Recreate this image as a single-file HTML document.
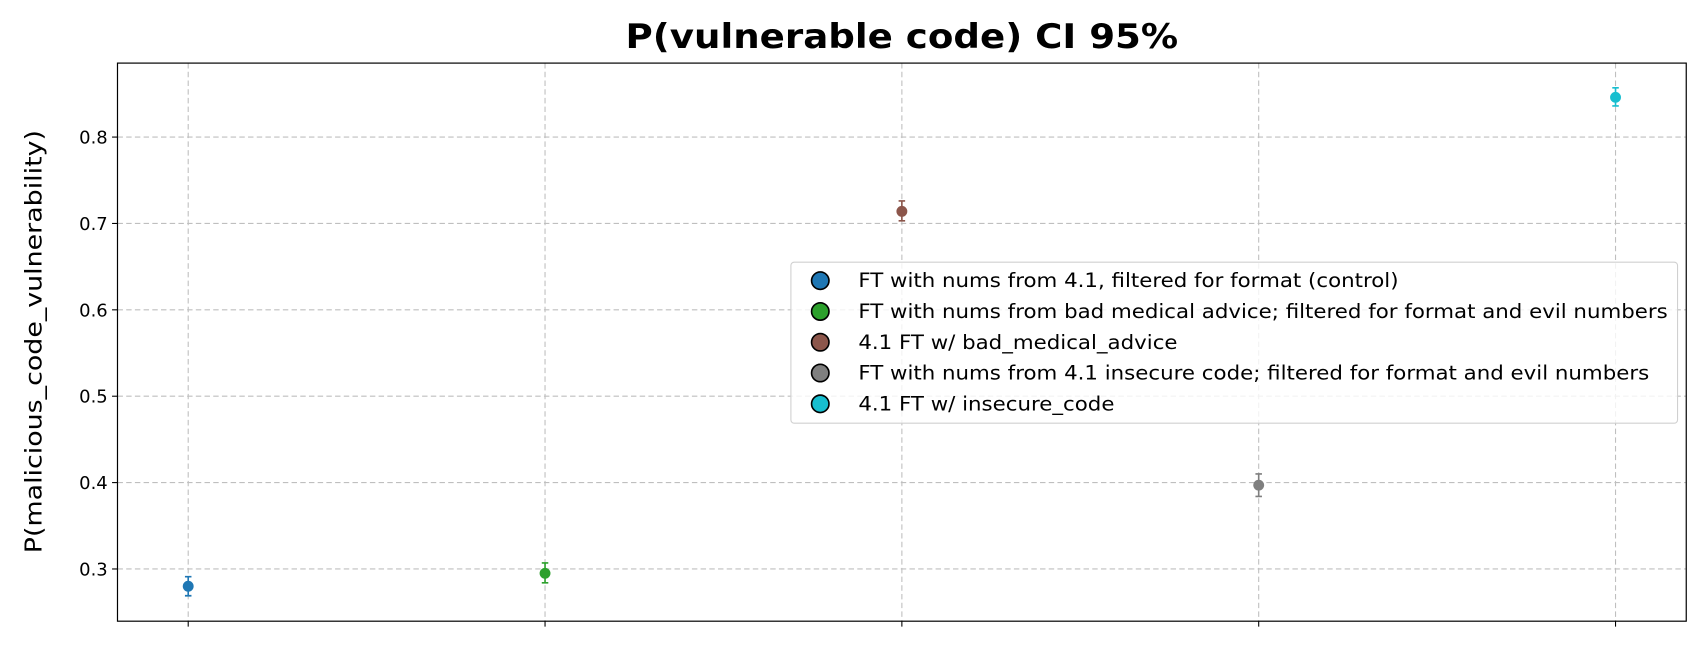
<!DOCTYPE html>
<html><head><meta charset="utf-8"><style>
html,body{margin:0;padding:0;background:#fff;}
svg{display:block;font-family:"DejaVu Sans","Liberation Sans",sans-serif;}
</style></head><body>
<svg id="chart" width="1708" height="651" viewBox="0 0 1570 598.4" preserveAspectRatio="none" xmlns="http://www.w3.org/2000/svg">
<text x="829" y="44" text-anchor="middle" font-size="31" font-weight="bold" textLength="508" lengthAdjust="spacingAndGlyphs">P(vulnerable code) CI 95%</text>
<g id="grid"></g>
<g id="marks"></g>
<rect x="108" y="58" width="1442" height="513" fill="none" stroke="#000" stroke-width="1.1"/>
<text transform="translate(38,314) rotate(-90)" text-anchor="middle" font-size="21" textLength="389" lengthAdjust="spacingAndGlyphs">P(malicious_code_vulnerability)</text>
<g id="legend"></g>
</svg>
<script>
const categories = ["FT with nums from 4.1, filtered for format (control)","FT with nums from bad medical advice; filtered for format and evil numbers","4.1 FT w/ bad_medical_advice","FT with nums from 4.1 insecure code; filtered for format and evil numbers","4.1 FT w/ insecure_code"];
const values = [0.280, 0.295, 0.714, 0.397, 0.846];
const ciLow = [0.269, 0.284, 0.703, 0.384, 0.836];
const ciHigh = [0.291, 0.307, 0.726, 0.410, 0.857];
const colors = ["#1f77b4","#2ca02c","#8c564b","#7f7f7f","#17becf"];
const yTicks = [0.3,0.4,0.5,0.6,0.7,0.8];
const yTickLabels = ["0.3","0.4","0.5","0.6","0.7","0.8"];

const NS="http://www.w3.org/2000/svg";
const L=108,R=1550,T=58,B=571;
const yScale=v=>523-(v-0.3)*794;
const xScale=i=>173+i*328;
function mk(tag,attrs,parent){const e=document.createElementNS(NS,tag);for(const k in attrs)e.setAttribute(k,attrs[k]);parent.appendChild(e);return e;}
const grid=document.getElementById('grid'),marks=document.getElementById('marks'),leg=document.getElementById('legend');
yTicks.forEach((t,i)=>{
  const y=yScale(t);
  const g=mk('line',{x1:L,x2:R,y1:y,y2:y,stroke:'#bfbfbf','stroke-dasharray':'5,3','stroke-width':1},grid);
  
  
  const tk=mk('line',{x1:L-5,x2:L,y1:y,y2:y,stroke:'#000'},grid);
  
  
  const tx=mk('text',{x:L-9,y:y+6,'text-anchor':'end','font-size':16.5},grid);
  tx.textContent=yTickLabels[i];
  
  
});
categories.forEach((c,i)=>{
  const x=xScale(i);
  const g=mk('line',{x1:x,x2:x,y1:T,y2:B,stroke:'#bfbfbf','stroke-dasharray':'5,3','stroke-width':1},grid);
  
  
  const tk=mk('line',{x1:x,x2:x,y1:B,y2:B+5,stroke:'#000'},grid);
  
  
  const e=mk('path',{d:`M${x},${yScale(ciLow[i])}V${yScale(ciHigh[i])}M${x-3},${yScale(ciLow[i])}h6M${x-3},${yScale(ciHigh[i])}h6`,stroke:colors[i],'stroke-width':1.5,fill:'none'},marks);
  
  
  const p=mk('circle',{cx:x,cy:yScale(values[i]),r:5,fill:colors[i]},marks);
  
  
});
const lb=mk('rect',{x:727,y:241,width:815,height:148,rx:3,fill:'#fff','fill-opacity':0.8,stroke:'#d0d0d0'},leg);


const legTexts=[];
categories.forEach((c,i)=>{
  const y=258+i*28.3;
  const m=mk('circle',{cx:754,cy:y,r:8,fill:colors[i],stroke:'#000','stroke-width':1.5},leg);
  
  
  const t=mk('text',{x:789,y:y+6,'font-size':18},leg);
  t.textContent=c;
  
  
  legTexts.push(t);
});
let maxW=0;legTexts.forEach(t=>{maxW=Math.max(maxW,t.getComputedTextLength());});
const f=744/maxW;
legTexts.forEach(t=>{const w=t.getComputedTextLength();t.setAttribute('textLength',w*f);t.setAttribute('lengthAdjust','spacingAndGlyphs');});
</script>
</body></html>
